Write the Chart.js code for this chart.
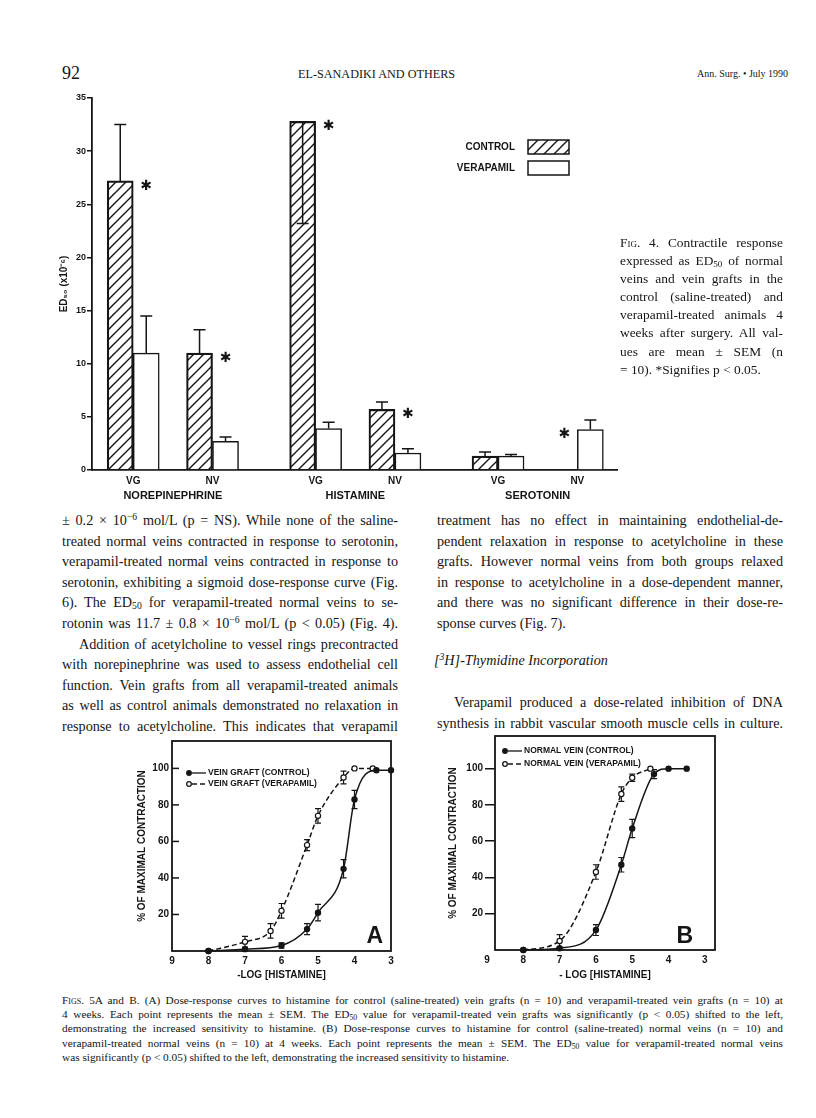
<!DOCTYPE html>
<html>
<head>
<meta charset="utf-8">
<script src="https://cdn.jsdelivr.net/npm/chart.js@4.4.1/dist/chart.umd.min.js"></script>
<style>
  body { margin: 0; background: #fff; }
  #page { position: relative; width: 816px; height: 1118px; overflow: hidden;
          font-family: 'Liberation Serif', 'Times New Roman', serif; color: #151515; }
  canvas { position: absolute; }
  .blk { position: absolute; }
  .blk div { text-align: justify; text-align-last: justify; }
  .blk div.last { text-align-last: left; }
  sup, sub { font-size: 0.68em; line-height: 0; }
  sup { vertical-align: 0.5em; }
  sub { vertical-align: -0.25em; }
  .sc { font-variant: small-caps; }
</style>
</head>
<body>
<div id="page">
  <div class="blk" style="left:62px;top:63px;font-size:18px;">92</div>
  <div class="blk" style="left:298px;top:67px;font-size:12.2px;">EL-SANADIKI AND OTHERS</div>
  <div class="blk" style="left:697px;top:68px;font-size:10px;">Ann. Surg. • July 1990</div>

  <canvas id="bars" width="590" height="420" style="left:40px;top:88px;"></canvas>

  <div class="blk" style="left:620px;top:234px;width:163px;font-size:13.4px;line-height:18.1px;">
    <div><span class="sc">Fig.</span> 4. Contractile response</div>
    <div>expressed as ED<sub>50</sub> of normal</div>
    <div>veins and vein grafts in the</div>
    <div>control (saline-treated) and</div>
    <div>verapamil-treated animals 4</div>
    <div>weeks after surgery. All val-</div>
    <div>ues are mean ± SEM (n</div>
    <div class="last">= 10). *Signifies p &lt; 0.05.</div>
  </div>

  <div class="blk" style="left:62px;top:510px;width:336px;font-size:14.2px;line-height:20.6px;">
    <div>± 0.2 × 10<sup>−6</sup> mol/L (p = NS). While none of the saline-</div>
    <div>treated normal veins contracted in response to serotonin,</div>
    <div>verapamil-treated normal veins contracted in response to</div>
    <div>serotonin, exhibiting a sigmoid dose-response curve (Fig.</div>
    <div>6). The ED<sub>50</sub> for verapamil-treated normal veins to se-</div>
    <div>rotonin was 11.7 ± 0.8 × 10<sup>−6</sup> mol/L (p &lt; 0.05) (Fig. 4).</div>
    <div style="text-indent:17px;">Addition of acetylcholine to vessel rings precontracted</div>
    <div>with norepinephrine was used to assess endothelial cell</div>
    <div>function. Vein grafts from all verapamil-treated animals</div>
    <div>as well as control animals demonstrated no relaxation in</div>
    <div>response to acetylcholine. This indicates that verapamil</div>
  </div>

  <div class="blk" style="left:437px;top:510px;width:346px;font-size:14.2px;line-height:20.6px;">
    <div>treatment has no effect in maintaining endothelial-de-</div>
    <div>pendent relaxation in response to acetylcholine in these</div>
    <div>grafts. However normal veins from both groups relaxed</div>
    <div>in response to acetylcholine in a dose-dependent manner,</div>
    <div>and there was no significant difference in their dose-re-</div>
    <div class="last">sponse curves (Fig. 7).</div>
  </div>
  <div class="blk" style="left:434px;top:650px;font-size:14.2px;line-height:20.6px;font-style:italic;">[<sup>3</sup>H]-Thymidine Incorporation</div>
  <div class="blk" style="left:437px;top:692px;width:346px;font-size:14.2px;line-height:20.6px;">
    <div style="text-indent:17px;">Verapamil produced a dose-related inhibition of DNA</div>
    <div>synthesis in rabbit vascular smooth muscle cells in culture.</div>
  </div>

  <canvas id="panelA" width="310" height="255" style="left:100px;top:730px;"></canvas>
  <canvas id="panelB" width="310" height="260" style="left:420px;top:725px;"></canvas>

  <div class="blk" style="left:62px;top:993px;width:721px;font-size:11.3px;line-height:14.2px;">
    <div><span class="sc">Figs.</span> 5A and B. (A) Dose-response curves to histamine for control (saline-treated) vein grafts (n = 10) and verapamil-treated vein grafts (n = 10) at</div>
    <div>4 weeks. Each point represents the mean ± SEM. The ED<sub>50</sub> value for verapamil-treated vein grafts was significantly (p &lt; 0.05) shifted to the left,</div>
    <div>demonstrating the increased sensitivity to histamine. (B) Dose-response curves to histamine for control (saline-treated) normal veins (n = 10) and</div>
    <div>verapamil-treated normal veins (n = 10) at 4 weeks. Each point represents the mean ± SEM. The ED<sub>50</sub> value for verapamil-treated normal veins</div>
    <div class="last">was significantly (p &lt; 0.05) shifted to the left, demonstrating the increased sensitivity to histamine.</div>
  </div>
</div>

<script>
const INK = '#151515';
const NARROW = "'Liberation Sans Narrow', 'Liberation Sans', Arial, sans-serif";
const SANS = "'Liberation Sans', Arial, sans-serif";

// Fig. 4: ED50 (x10^-6), mean and SEM
const agents = ['NOREPINEPHRINE', 'HISTAMINE', 'SEROTONIN'];
const vessels = ['VG', 'NV', 'VG', 'NV', 'VG', 'NV'];
const controlMean = [27.2, 11.0, 32.8, 5.7, 1.3, 0];
const controlSem = [5.3, 2.2, 9.6, 0.7, 0.4, 0];
const verapamilMean = [11.0, 2.7, 3.9, 1.6, 1.3, 3.8];
const verapamilSem = [3.5, 0.4, 0.6, 0.4, 0.15, 0.9];
const significant = [true, true, true, true, false, true];
const edTicks = [0, 5, 10, 15, 20, 25, 30, 35];

// Fig. 5A: vein grafts, % of maximal contraction vs -log[histamine]
const doseA_control = [8, 7, 6, 5.3, 5, 4.3, 4, 3.4, 3];
const pctA_control = [0, 1, 3, 12, 21, 45, 83, 99, 99];
const semA_control = [0, 1, 1.5, 3, 4.5, 5, 5, 0, 0];
const doseA_verapamil = [8, 7, 6.3, 6, 5.3, 5, 4.3, 4, 3.5];
const pctA_verapamil = [0, 5, 11, 22, 58, 74, 95, 100, 100];
const semA_verapamil = [0, 3, 4, 4, 3, 4, 3.5, 0, 0];

// Fig. 5B: normal veins
const doseB_control = [8, 7, 6, 5.3, 5, 4.4, 4, 3.5];
const pctB_control = [0, 1, 11, 47, 67, 97, 100, 100];
const semB_control = [0, 0.5, 3, 4, 5, 2.5, 0, 0];
const doseB_verapamil = [8, 7, 6, 5.3, 5, 4.5];
const pctB_verapamil = [0, 5, 43, 86, 95, 100];
const semB_verapamil = [0, 3.5, 4, 4, 2, 0];
const pctTicks = [20, 40, 60, 80, 100];
const logTicks = [3, 4, 5, 6, 7, 8, 9];

// group spacing on the bar chart's x axis
const slot = i => 1 + Math.floor(i / 2) * 2.3 + (i % 2);

const barCanvas = document.getElementById('bars');
const hatch = (() => {
  const tile = document.createElement('canvas');
  tile.width = 10; tile.height = 10;
  const g = tile.getContext('2d');
  g.strokeStyle = INK; g.lineWidth = 1.4;
  g.beginPath();
  g.moveTo(0, 10); g.lineTo(10, 0);
  g.moveTo(-1, 1); g.lineTo(1, -1);
  g.moveTo(9, 11); g.lineTo(11, 9);
  g.stroke();
  return barCanvas.getContext('2d').createPattern(tile, 'repeat');
})();

const barExtras = {
  id: 'barExtras',
  afterDatasetsDraw(chart) {
    const {ctx, chartArea: a, scales: {x, y}} = chart;
    ctx.save();
    ctx.strokeStyle = INK; ctx.fillStyle = INK; ctx.lineWidth = 1.5;
    chart.data.datasets.forEach((ds, di) => {
      const meta = chart.getDatasetMeta(di);
      ds.sem.forEach((s, i) => {
        if (!s) return;
        const bar = meta.data[i];
        const m = ds.data[i].y;
        const end = m + s > y.max ? m - s : m + s;
        const py = y.getPixelForValue(end);
        ctx.beginPath();
        ctx.moveTo(bar.x, bar.y); ctx.lineTo(bar.x, py);
        ctx.moveTo(bar.x - 6, py); ctx.lineTo(bar.x + 6, py);
        ctx.stroke();
      });
    });
    // significance marks
    ctx.font = "bold 14px 'DejaVu Sans', sans-serif";
    ctx.textAlign = 'center'; ctx.textBaseline = 'middle';
    significant.forEach((sig, i) => {
      if (!sig) return;
      const c = controlMean[i], v = verapamilMean[i];
      const cx = x.getPixelForValue(slot(i));
      const px = c >= v ? cx + 13 : cx - 13;
      ctx.fillText('✱', px, y.getPixelForValue(Math.max(c, v)) + 5);
    });
    // legend
    ctx.font = 'bold 10px ' + NARROW;
    ctx.textAlign = 'right';
    chart.data.datasets.forEach((ds, i) => {
      const ly = a.top + 49 + i * 21;
      ctx.fillStyle = INK;
      ctx.fillText(ds.label, a.left + 423, ly);
      ctx.fillStyle = ds.backgroundColor;
      ctx.fillRect(a.left + 436, ly - 7, 41, 14);
      ctx.strokeRect(a.left + 436, ly - 7, 41, 14);
    });
    ctx.restore();
  }
};

new Chart(barCanvas, {
  type: 'bar',
  data: {
    datasets: [
      { label: 'CONTROL', data: controlMean.map((v, i) => ({x: slot(i), y: v})), sem: controlSem,
        backgroundColor: hatch, borderColor: INK, borderWidth: 1.5, barThickness: 26 },
      { label: 'VERAPAMIL', data: verapamilMean.map((v, i) => ({x: slot(i), y: v})), sem: verapamilSem,
        backgroundColor: '#ffffff', borderColor: INK, borderWidth: 1.5, barThickness: 26 }
    ]
  },
  options: {
    responsive: false, animation: false,
    layout: { padding: { top: 10, right: 13, left: 0, bottom: 0 } },
    plugins: { legend: { display: false }, tooltip: { enabled: false } },
    scales: {
      x: {
        type: 'linear', min: 0.48, max: 7.1, offset: false, weight: 0,
        afterBuildTicks: s => { s.ticks = vessels.map((_, i) => ({value: slot(i)})); },
        afterFit: s => { s.height = 18; },
        ticks: { autoSkip: false, maxRotation: 0, padding: 5, color: INK,
                 font: { family: NARROW, size: 10, weight: 'bold' },
                 callback: (v, i) => vessels[i] },
        grid: { display: false, drawTicks: false },
        border: { display: true, color: INK, width: 1.8 }
      },
      x2: {
        type: 'linear', position: 'bottom', min: 0.48, max: 7.1, offset: false, weight: 1,
        afterBuildTicks: s => { s.ticks = agents.map((_, g) => ({value: slot(2 * g) + 0.5})); },
        afterFit: s => { s.height = 20; },
        ticks: { autoSkip: false, maxRotation: 0, padding: 1, color: INK,
                 font: { family: NARROW, size: 11, weight: 'bold' },
                 callback: (v, i) => agents[i] },
        grid: { display: false, drawTicks: false },
        border: { display: false }
      },
      y: {
        min: 0, max: 35,
        afterBuildTicks: s => { s.ticks = edTicks.map(v => ({value: v})); },
        afterFit: s => { s.width = 52; },
        ticks: { padding: 1, color: INK, font: { family: NARROW, size: 9, weight: 'bold' } },
        grid: { display: true, drawOnChartArea: false, tickLength: 5, color: INK, lineWidth: 1.5 },
        border: { display: true, color: INK, width: 1.8 },
        title: { display: true, text: 'ED₅₀ (x10⁻⁶)', color: INK, padding: { top: 18 },
                 font: { family: SANS, size: 10, weight: 'bold' } }
      }
    }
  },
  plugins: [barExtras]
});

const panelExtras = {
  id: 'panelExtras',
  beforeDatasetsDraw(chart) {
    const {ctx, scales: {x, y}} = chart;
    ctx.save();
    ctx.strokeStyle = INK; ctx.lineWidth = 1.2;
    chart.data.datasets.forEach(ds => {
      ds.data.forEach((p, i) => {
        const s = ds.sem[i];
        if (!s) return;
        const px = x.getPixelForValue(p.x);
        const y1 = y.getPixelForValue(p.y - s), y2 = y.getPixelForValue(p.y + s);
        ctx.beginPath();
        ctx.moveTo(px, y1); ctx.lineTo(px, y2);
        ctx.moveTo(px - 3, y1); ctx.lineTo(px + 3, y1);
        ctx.moveTo(px - 3, y2); ctx.lineTo(px + 3, y2);
        ctx.stroke();
      });
    });
    ctx.restore();
  },
  afterDatasetsDraw(chart, args, opts) {
    const {ctx, chartArea: a, scales: {y}} = chart;
    ctx.save();
    ctx.strokeStyle = INK; ctx.fillStyle = INK; ctx.lineWidth = 1.8;
    ctx.strokeRect(a.left, a.top, a.right - a.left, a.bottom - a.top);
    if (opts.innerTicks) {
      ctx.lineWidth = 1.5;
      y.ticks.forEach(t => {
        const py = y.getPixelForValue(t.value);
        ctx.beginPath(); ctx.moveTo(a.left, py); ctx.lineTo(a.left + 7, py); ctx.stroke();
      });
    }
    // legend
    ctx.font = 'bold 8.5px ' + NARROW;
    ctx.textAlign = 'left'; ctx.textBaseline = 'middle'; ctx.lineWidth = 1.3;
    chart.data.datasets.forEach((ds, i) => {
      const lx = a.left + opts.legendX, ly = a.top + opts.legendRows[i];
      ctx.setLineDash(ds.borderDash || []);
      ctx.beginPath(); ctx.moveTo(lx + 3, ly); ctx.lineTo(lx + 17, ly); ctx.stroke();
      ctx.setLineDash([]);
      ctx.beginPath(); ctx.arc(lx, ly, 2.3, 0, Math.PI * 2);
      ctx.fillStyle = ds.pointBackgroundColor; ctx.fill(); ctx.stroke();
      ctx.fillStyle = INK;
      ctx.fillText(ds.label, lx + 19, ly);
    });
    ctx.font = 'bold 23px ' + SANS;
    ctx.textAlign = 'right'; ctx.textBaseline = 'alphabetic';
    ctx.fillText(opts.letter, a.right - opts.letterDx, a.bottom - opts.letterDy);
    ctx.restore();
  }
};

function series(label, dose, pct, sem, open) {
  return {
    label, sem,
    data: dose.map((d, i) => ({x: d, y: pct[i]})),
    borderColor: INK, borderWidth: 1.5, borderDash: open ? [5, 3] : [],
    cubicInterpolationMode: 'monotone', clip: false,
    pointRadius: 2.6, pointBorderWidth: 1.2, pointBorderColor: INK,
    pointBackgroundColor: open ? '#ffffff' : INK
  };
}

function panel(id, datasets, p) {
  new Chart(document.getElementById(id), {
    type: 'line',
    data: { datasets },
    options: {
      responsive: false, animation: false,
      layout: { padding: { top: p.top, right: p.right, left: 0, bottom: 0 } },
      plugins: { legend: { display: false }, tooltip: { enabled: false }, panelExtras: p.extras },
      scales: {
        x: {
          type: 'linear', reverse: true, min: p.xmin, max: p.xmax,
          afterBuildTicks: s => { s.ticks = logTicks.map(v => ({value: v})); },
          afterFit: s => { s.height = p.xh; s.paddingLeft = 0; s.paddingRight = 0; },
          ticks: { autoSkip: false, maxRotation: 0, padding: 4, color: INK,
                   font: { family: SANS, size: 10, weight: 'bold' } },
          grid: { display: false, drawTicks: false },
          border: { display: false },
          title: { display: true, text: p.xtitle, color: INK, padding: { bottom: p.xtp, top: 0 },
                   font: { family: SANS, size: 10, weight: 'bold' } }
        },
        y: {
          min: 0, max: p.ymax,
          afterBuildTicks: s => { s.ticks = pctTicks.map(v => ({value: v})); },
          afterFit: s => { s.width = p.yw; s.paddingTop = 0; s.paddingBottom = 0; },
          ticks: { padding: p.tickPad, color: INK, font: { family: SANS, size: 10, weight: 'bold' } },
          grid: p.outerTicks
            ? { display: true, drawOnChartArea: false, drawTicks: true, tickLength: 10, color: INK, lineWidth: 1.5 }
            : { display: false, drawTicks: false },
          border: { display: false },
          title: { display: true, text: '% OF MAXIMAL CONTRACTION', color: INK, padding: { top: p.ytp },
                   font: { family: SANS, size: 10, weight: 'bold' } }
        }
      }
    },
    plugins: [panelExtras]
  });
}

panel('panelA', [
  series('VEIN GRAFT (CONTROL)', doseA_control, pctA_control, semA_control, false),
  series('VEIN GRAFT (VERAPAMIL)', doseA_verapamil, pctA_verapamil, semA_verapamil, true)
], { top: 11, right: 19, xh: 34, yw: 72, xmin: 3, xmax: 9, ymax: 115, xtitle: '-LOG [HISTAMINE]',
     xtp: 4, ytp: 36, tickPad: 3, outerTicks: false,
     extras: { innerTicks: true, legendX: 17, legendRows: [32, 43], letter: 'A', letterDx: 8, letterDy: 8 } });

panel('panelB', [
  series('NORMAL VEIN (CONTROL)', doseB_control, pctB_control, semB_control, false),
  series('NORMAL VEIN (VERAPAMIL)', doseB_verapamil, pctB_verapamil, semB_verapamil, true)
], { top: 11, right: 15, xh: 35, yw: 75, xmin: 2.72, xmax: 8.78, ymax: 118, xtitle: '- LOG [HISTAMINE]',
     xtp: 4, ytp: 27, tickPad: 2, outerTicks: true,
     extras: { innerTicks: false, legendX: 10, legendRows: [15, 28], letter: 'B', letterDx: 22, letterDy: 7 } });
</script>
</body>
</html>
